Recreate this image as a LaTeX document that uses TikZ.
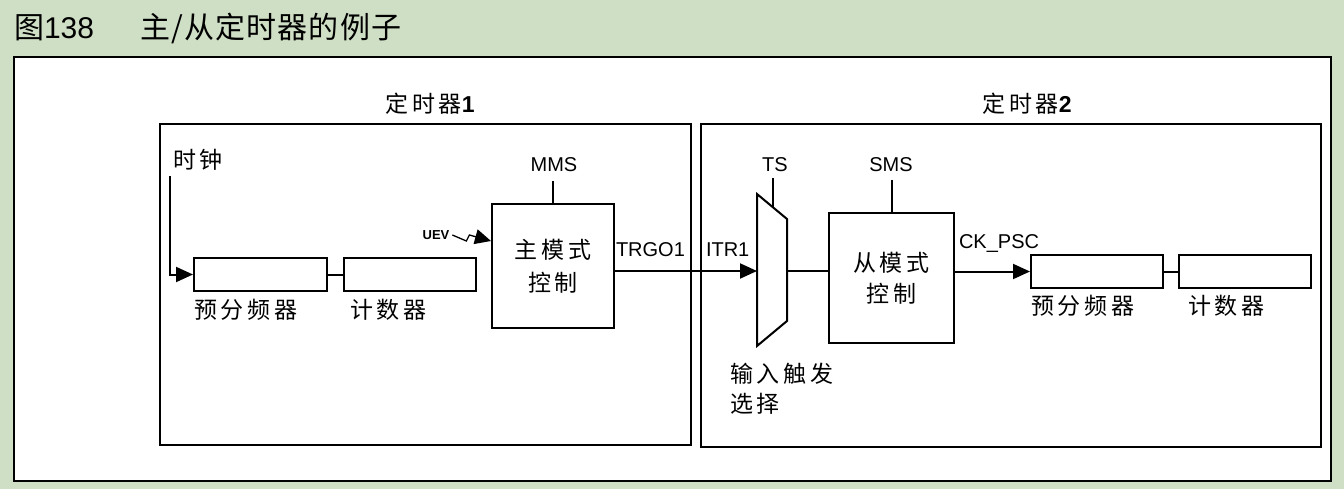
\documentclass[tikz,border=0pt]{standalone}
\usepackage{fontspec}
\setmainfont{Liberation Sans}
\newfontfamily\cjk[LetterSpace=16]{Noto Sans CJK SC}
\newfontfamily\cjkt[LetterSpace=4]{Noto Sans CJK SC}
\usetikzlibrary{arrows.meta,calc}
\definecolor{bggreen}{HTML}{CFDFC5}
\begin{document}
\begin{tikzpicture}[x=1pt,y=-1pt,line width=2pt,
  box/.style={draw,line width=2pt,fill=white,inner sep=0pt,anchor=north west},
  lbl/.style={font=\fontsize{20}{22}\selectfont,inner sep=0pt},
  cjkl/.style={font=\cjk\fontsize{23}{31}\selectfont,inner sep=0pt},
  arr/.style={-{Triangle[length=17pt,width=15pt]}}]
\fill[bggreen] (0,0) rectangle (1344,489);
\useasboundingbox (0,0) rectangle (1344,489);
% title
\node[anchor=west,inner sep=0pt,font=\fontsize{30}{32}\selectfont] (ttl) at (13,28) {{\cjkt 图}138};
\node[anchor=west,inner sep=0pt,font=\cjkt\fontsize{30}{32}\selectfont] (ttl2) at (139,28) {主/从定时器的例子};
% frame
\draw[line width=2.8pt,fill=white] (14,57) rectangle (1331,481);
% timers
\node[box,minimum width=531pt,minimum height=321pt] (tim1) at (159,123) {};
\node[box,minimum width=620pt,minimum height=323pt] (tim2) at (700,123) {};
\node[cjkl] (t1l) at (430,104) {定时器{\normalfont\bfseries 1}};
\node[cjkl] (t2l) at (1027,104) {定时器{\normalfont\bfseries 2}};
% timer 1 contents
\node[cjkl,anchor=west] (clk) at (172,160) {时钟};
\coordinate (clks) at (170,176);
\node[box,minimum width=133pt,minimum height=33pt] (p1) at (193,257) {};
\node[box,minimum width=132pt,minimum height=33pt] (c1) at (343,257) {};
\draw[arr] (clks) |- (p1.west);
\draw (p1.east) -- (c1.west);
\node[cjkl,anchor=west] (p1l) at (193,310) {预分频器};
\node[cjkl,anchor=west] (c1l) at (349,310) {计数器};
\node[box,minimum width=122pt,minimum height=124pt,align=center,font=\cjk\fontsize{23}{33}\selectfont] (mst) at (491,203) {主模式\\控制};
\node[lbl] (mms) at (554,165) {MMS};
\draw ([yshift=22pt]mst.north) -- (mst.north);
\node[inner sep=0pt,font=\bfseries\fontsize{13}{14}\selectfont] (uev) at (436,235) {UEV};
\coordinate (uevend) at (491,241);
\draw[-{Triangle[length=16pt,width=15pt]},line width=1.3pt] ([xshift=2pt]uev.east) -- ++(14,6) -- ++(3,-6) -- (uevend);
\coordinate (itr) at (757,271);
\draw[arr] (itr -| mst.east) -- (itr);
\node[lbl,anchor=base west] (trgo) at (615,257) {TRGO1};
\node[lbl,anchor=base west] (itrl) at (705,257) {ITR1};
% mux
\coordinate (mtl) at (757,194);
\coordinate (mbl) at (757,346);
\coordinate (mtr) at (787,219);
\coordinate (mbr) at (787,321);
\draw[line join=miter] (mtl) -- (mtr) -- (mbr) -- (mbl) -- cycle;
\coordinate (tsend) at ($(mtl)!0.53!(mtr)$);
\node[lbl] (ts) at (775,165) {TS};
\draw (tsend |- 0,178) -- (tsend);
\node[cjkl,anchor=north west,align=left,font=\cjk\fontsize{23}{30}\selectfont] (sel) at (729,362) {输入触发\\选择};
% slave
\node[box,minimum width=125pt,minimum height=130pt,align=center,font=\cjk\fontsize{23}{31}\selectfont] (slv) at (828,212) {从模式\\控制};
\coordinate (mout) at (787,271);
\draw (mout) -- (mout -| slv.west);
\node[lbl] (sms) at (891,165) {SMS};
\draw ([yshift=32pt]slv.north) -- (slv.north);
\node[box,minimum width=132pt,minimum height=33pt] (p2) at (1030,254) {};
\node[box,minimum width=132pt,minimum height=33pt] (c2) at (1178,254) {};
\draw[arr] (p2.west -| slv.east) -- (p2.west);
\draw (p2.east) -- (c2.west);
\node[lbl,anchor=base west] (ckpsc) at (958,248) {CK\_PSC};
\node[cjkl,anchor=west] (p2l) at (1030,306) {预分频器};
\node[cjkl,anchor=west] (c2l) at (1187,306) {计数器};
\end{tikzpicture}
\end{document}
